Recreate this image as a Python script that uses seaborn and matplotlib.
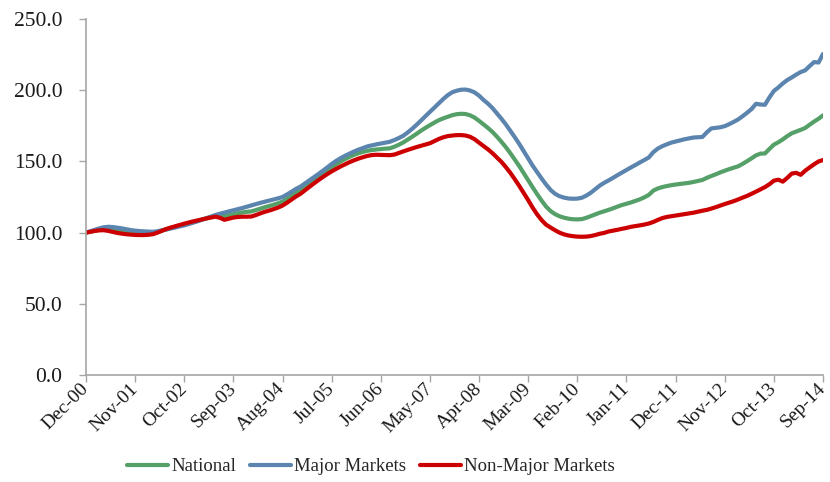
import numpy as np
import pandas as pd
import seaborn as sns
import matplotlib.pyplot as plt
from matplotlib.ticker import FixedLocator, FuncFormatter

# Monthly index values, Dec-2000 = 100
months = pd.date_range("2000-12-01", "2014-09-01", freq="MS")

national = [
    100.0, 100.7, 101.4, 102.0, 102.4, 102.4, 101.9, 101.3, 100.8, 100.3,
    99.9, 99.6, 99.4, 99.3, 99.3, 99.5, 100.4, 101.4, 102.4, 103.3,
    104.1, 104.9, 105.7, 106.5, 107.4, 108.3, 109.2, 110.1, 111.0, 111.8,
    111.8, 111.5, 112.2, 112.9, 113.6, 114.2, 114.6, 114.9, 115.8, 116.8,
    117.8, 118.7, 119.6, 120.6, 121.8, 123.7, 125.8, 128.0, 129.8, 132.2,
    134.5, 136.8, 139.1, 141.4, 143.7, 146.0, 148.1, 150.0, 151.7, 153.2,
    154.6, 155.8, 156.7, 157.5, 158.0, 158.4, 158.7, 159.0, 159.2, 160.3,
    161.7, 163.3, 165.3, 167.3, 169.4, 171.6, 173.6, 175.5, 177.3, 179.0,
    180.3, 181.4, 182.5, 183.2, 183.5, 183.3, 182.4, 180.8, 178.5, 176.0,
    173.5, 170.7, 167.4, 163.8, 160.0, 155.8, 151.3, 146.7, 141.8, 136.8,
    131.8, 127.0, 122.5, 118.3, 115.2, 113.0, 111.5, 110.5, 109.8, 109.4,
    109.3, 109.5, 110.4, 111.6, 112.8, 114.0, 115.0, 116.0, 117.1, 118.3,
    119.4, 120.3, 121.2, 122.3, 123.4, 124.8, 126.5, 129.5, 131.0, 132.0,
    132.7, 133.3, 133.8, 134.2, 134.6, 135.0, 135.6, 136.3, 137.0, 138.5,
    139.8, 141.0, 142.3, 143.5, 144.6, 145.6, 146.6, 148.3, 150.2, 152.2,
    154.3, 155.5, 155.6, 158.8, 161.8, 163.5, 165.5, 167.8, 169.8, 171.0,
    172.2, 173.5, 175.8, 178.0, 180.0, 182.4,
]

major_markets = [
    100.0, 101.0, 102.0, 103.0, 103.8, 104.1, 103.9, 103.5, 103.0, 102.4,
    101.8, 101.4, 101.1, 100.9, 100.7, 100.6, 101.0, 101.6, 102.2, 102.9,
    103.6, 104.4, 105.1, 106.0, 107.0, 108.0, 109.1, 110.2, 111.3, 112.4,
    113.3, 114.1, 114.9, 115.7, 116.5, 117.3, 118.2, 119.1, 120.0, 120.9,
    121.7, 122.5, 123.3, 124.1, 125.0, 126.8, 128.7, 130.7, 132.3, 134.5,
    136.7, 138.9, 141.1, 143.4, 145.8, 148.2, 150.4, 152.3, 154.0, 155.5,
    157.0, 158.3, 159.4, 160.6, 161.3, 162.0, 162.6, 163.2, 163.8, 165.0,
    166.4, 168.0, 170.3, 172.9, 175.7, 178.8, 181.8, 184.8, 187.8, 190.8,
    193.9, 196.6, 198.6, 199.7, 200.4, 200.5, 199.8, 198.5, 196.2, 193.2,
    190.6, 187.5, 183.8, 180.0, 176.0, 171.5, 167.0, 162.3, 157.2, 152.0,
    147.0, 142.5, 138.0, 133.8, 130.0, 127.3, 125.6, 124.6, 124.0, 123.8,
    123.9, 124.5, 126.0, 128.0, 130.5, 133.0, 135.0, 136.7, 138.5, 140.4,
    142.2, 144.0, 145.8, 147.5, 149.3, 151.0, 152.8, 156.5, 159.0, 160.7,
    162.0, 163.2, 164.0, 164.8, 165.6, 166.2, 166.8, 167.0, 167.2, 170.5,
    173.2, 173.6, 174.0, 174.8, 176.2, 177.8, 179.5, 181.8, 184.2, 186.8,
    190.5, 190.0, 189.8, 195.0, 199.5, 202.0, 204.8, 207.2, 209.0, 211.0,
    212.8, 214.0, 217.0, 219.8, 219.5, 225.5,
]

non_major_markets = [
    100.0, 100.6, 101.2, 101.6, 101.7, 101.2, 100.5, 99.8, 99.3, 98.9,
    98.6, 98.4, 98.3, 98.3, 98.5, 98.9, 100.0, 101.3, 102.6, 103.6,
    104.5, 105.4, 106.3, 107.1, 107.9, 108.6, 109.3, 110.0, 110.6, 111.2,
    110.4, 109.0, 109.8, 110.6, 111.0, 111.2, 111.2, 111.3, 112.3, 113.5,
    114.6, 115.5, 116.5, 117.6, 119.0, 121.0, 123.2, 125.4, 127.2, 129.7,
    132.1, 134.5, 136.8, 139.0, 141.1, 143.0, 144.8, 146.5, 148.0, 149.5,
    150.8, 152.0, 153.0, 153.9, 154.5, 154.7, 154.6, 154.5, 154.4, 154.8,
    155.9, 157.0, 158.1, 159.1, 160.1, 161.0, 161.9, 162.8, 164.3, 165.8,
    167.0, 167.8, 168.2, 168.5, 168.5, 168.2, 167.3, 165.6, 163.2, 160.8,
    158.5, 155.8, 152.8, 149.7, 146.0, 142.0, 137.5, 132.8, 127.8, 122.8,
    117.5, 112.8, 108.8, 105.6, 103.6, 101.7, 100.0, 98.8, 98.0, 97.5,
    97.2, 97.1, 97.2, 97.6, 98.3, 99.2, 99.8, 100.8, 101.4, 102.0,
    102.7, 103.3, 104.1, 104.6, 105.1, 105.7, 106.4, 107.5, 108.9, 110.2,
    111.0, 111.5, 112.0, 112.5, 113.0, 113.5, 114.0, 114.7, 115.4, 116.0,
    116.9, 117.9, 119.0, 120.1, 121.1, 122.1, 123.3, 124.6, 125.8, 127.3,
    128.8, 130.4, 132.0, 134.0, 136.5, 137.2, 135.8, 138.5, 141.5, 142.0,
    140.6, 143.5, 145.8, 148.0, 150.0, 151.0,
]

series_names = ["National", "Major Markets", "Non-Major Markets"]
series_colors = ["#55A068", "#5B84AE", "#CC0000"]
y_ticks = [0, 50, 100, 150, 200, 250]
tick_step = 11

month_labels = [m.strftime("%b-%y") for m in months]

wide = pd.DataFrame({
    "t": np.arange(len(months)),
    series_names[0]: national,
    series_names[1]: major_markets,
    series_names[2]: non_major_markets,
})
long = wide.melt(id_vars="t", var_name="Series", value_name="Index")

sns.set_theme(style="white")
plt.rcParams["font.family"] = ["Liberation Serif", "DejaVu Serif"]

fig = plt.figure(figsize=(8.30, 4.82), dpi=100)
ax = fig.add_axes([0.1036, 0.222, 0.8880, 0.7384])

sns.lineplot(
    data=long, x="t", y="Index", hue="Series",
    hue_order=series_names, palette=series_colors,
    linewidth=3.0, ax=ax, legend=True,
)

ax.set_xlim(0, len(months) - 1)
ax.set_ylim(0, 250)
ax.set_xlabel("")
ax.set_ylabel("")

tick_pos = list(range(0, len(months), tick_step))
ax.xaxis.set_major_locator(FixedLocator(tick_pos))
ax.set_xticklabels([month_labels[i] for i in tick_pos])
ax.yaxis.set_major_locator(FixedLocator(y_ticks))
ax.yaxis.set_major_formatter(FuncFormatter(lambda v, _: f"{v:.1f}"))

spine_color = "#A6A6A6"
for side in ["top", "right"]:
    ax.spines[side].set_visible(False)
for side in ["left", "bottom"]:
    ax.spines[side].set_color(spine_color)
    ax.spines[side].set_linewidth(1.2)

ax.tick_params(axis="both", which="major", direction="out", length=5,
               width=1.0, color=spine_color, labelcolor="#1a1a1a",
               left=True, bottom=True)
ax.tick_params(axis="y", pad=12, labelsize=15.5)
ax.tick_params(axis="x", pad=3, labelsize=14)
for lbl in ax.get_xticklabels():
    lbl.set_rotation(45)
    lbl.set_ha("right")
    lbl.set_va("center")
    lbl.set_rotation_mode("anchor")

handles, labels = ax.get_legend_handles_labels()
ax.legend_.remove()
fig.legend(
    handles, labels, loc="center", bbox_to_anchor=(0.447, 0.032),
    ncol=3, frameon=False, fontsize=13.5, handlelength=2.2,
    handletextpad=0.15, columnspacing=0.75,
)

fig.savefig("out.png", dpi=100)
